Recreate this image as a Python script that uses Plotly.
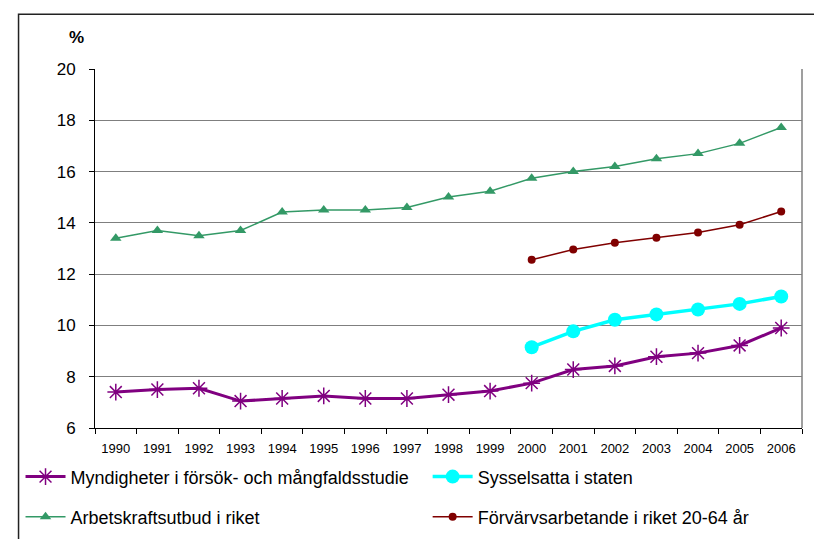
import plotly.graph_objects as go

years = [str(y) for y in range(1990, 2007)]
myndigheter = [7.40, 7.50, 7.55, 7.05, 7.15, 7.25, 7.15, 7.15, 7.30, 7.44,
               7.75, 8.28, 8.42, 8.78, 8.92, 9.22, 9.90]
sysselsatta = [None] * 10 + [9.15, 9.77, 10.22, 10.43, 10.62, 10.84, 11.13]
arbetskraft = [13.40, 13.70, 13.50, 13.70, 14.42, 14.50, 14.50, 14.60, 15.01, 15.23,
               15.74, 16.00, 16.20, 16.50, 16.70, 17.10, 17.72]
forvarvs = [None] * 10 + [12.56, 12.96, 13.22, 13.42, 13.62, 13.93, 14.44]

names = ["Myndigheter i försök- och mångfaldsstudie",
         "Sysselsatta i staten",
         "Arbetskraftsutbud i riket",
         "Förvärvsarbetande i riket 20-64 år"]

FONT = "Liberation Sans, Arial, sans-serif"

fig = go.Figure()
fig.add_trace(go.Scatter(
    x=years, y=arbetskraft, name=names[2], mode="lines+markers",
    line=dict(color="#339966", width=1.5),
    marker=dict(symbol="triangle-up", size=10, color="#339966"),
    legend="legend3"))
fig.add_trace(go.Scatter(
    x=years, y=forvarvs, name=names[3], mode="lines+markers",
    line=dict(color="#800000", width=1.5),
    marker=dict(symbol="circle", size=8, color="#800000"),
    legend="legend4"))
fig.add_trace(go.Scatter(
    x=years, y=sysselsatta, name=names[1], mode="lines+markers",
    line=dict(color="#00FFFF", width=3.5),
    marker=dict(symbol="circle", size=14, color="#00FFFF"),
    legend="legend2"))
fig.add_trace(go.Scatter(
    x=years, y=myndigheter, name=names[0], mode="lines+markers",
    line=dict(color="#800080", width=3),
    marker=dict(symbol="asterisk-open", size=14,
                line=dict(color="#800080", width=1.5)),
    legend="legend"))

legend_common = dict(
    orientation="v", xanchor="left", yanchor="middle",
    font=dict(family=FONT, size=18, color="#000000"),
    itemwidth=40, bgcolor="rgba(0,0,0,0)", borderwidth=0,
)

L = 82.0
T = 61.0
W = 712.0
H = 367.0


def px_x(px):
    return (px - L) / W


def px_y(py):
    return (T + H - py) / H


fig.update_layout(
    width=822, height=539,
    margin=dict(l=82, r=28, t=61, b=111),
    paper_bgcolor="white", plot_bgcolor="white",
    font=dict(family=FONT, color="#000000"),
    showlegend=True,
    legend=dict(x=px_x(7), y=px_y(478), **legend_common),
    legend2=dict(x=px_x(417), y=px_y(478), **legend_common),
    legend3=dict(x=px_x(7), y=px_y(519), **legend_common),
    legend4=dict(x=px_x(417), y=px_y(519), **legend_common),
    xaxis=dict(
        type="category", tickson="boundaries", ticks="outside", ticklen=5,
        tickcolor="#000000", showline=True, linecolor="#000000", linewidth=1,
        showgrid=False, tickfont=dict(family=FONT, size=13),
        ticklabelstandoff=8, range=[-0.5, 16.5],
    ),
    yaxis=dict(
        range=[6, 20], dtick=2, ticks="outside", ticklen=5, tickcolor="#000000",
        showline=True, linecolor="#000000", linewidth=1,
        showgrid=True, gridcolor="#7f7f7f", gridwidth=1,
        tickfont=dict(family=FONT, size=17), ticklabelstandoff=10,
        zeroline=False,
    ),
    shapes=[
        dict(type="line", xref="paper", yref="paper", x0=1, x1=1, y0=0, y1=1,
             line=dict(color="#7f7f7f", width=1.5)),
        dict(type="rect", xref="paper", yref="paper", x0=px_x(5), x1=1.2,
             y0=-0.5, y1=px_y(5), line=dict(color="#222222", width=1.5),
             layer="below"),
    ],
    annotations=[
        dict(text="<b>%</b>", xref="paper", yref="paper",
             x=px_x(63), y=px_y(29), showarrow=False,
             font=dict(family=FONT, size=17), xanchor="center", yanchor="middle"),
    ],
)

fig.write_html("out.html")
